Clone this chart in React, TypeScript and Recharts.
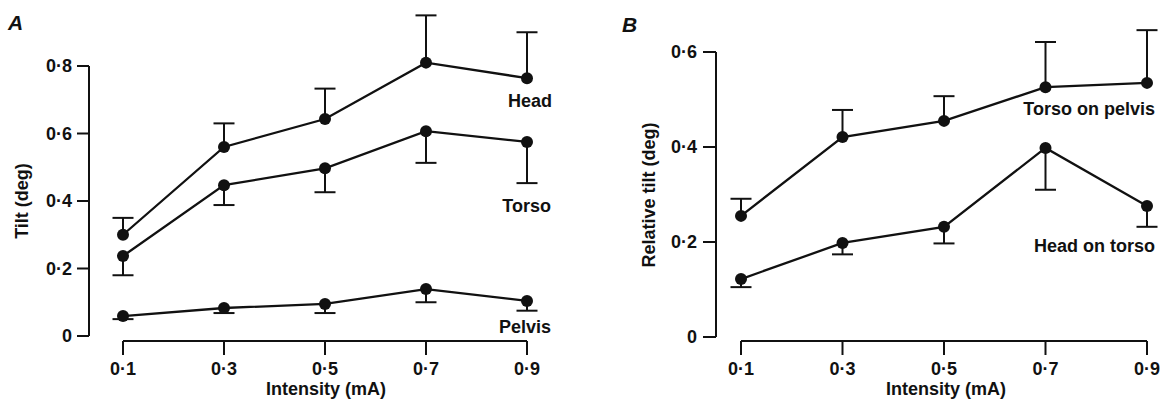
import React from "react";
import { LineChart, Line, XAxis, YAxis, ErrorBar, Label } from "recharts";

const INK = "#111";
const FONT = '"Liberation Sans", Arial, Helvetica, sans-serif';

const INTENSITY = [0.1, 0.3, 0.5, 0.7, 0.9];
const X_TICKS = [0.1, 0.3, 0.5, 0.7, 0.9];

// Panel A: absolute tilt (deg), error bars are one-sided
const HEAD = [0.3, 0.56, 0.643, 0.81, 0.764];
const HEAD_ERR = [0.05, 0.07, 0.09, 0.14, 0.136];
const TORSO = [0.237, 0.447, 0.497, 0.607, 0.575];
const TORSO_ERR = [0.057, 0.059, 0.071, 0.094, 0.122];
const PELVIS = [0.059, 0.083, 0.095, 0.139, 0.104];
const PELVIS_ERR = [0.009, 0.015, 0.027, 0.039, 0.029];
const A_TICKS = [0, 0.2, 0.4, 0.6, 0.8];

// Panel B: relative tilt (deg)
const TORSO_ON_PELVIS = [0.255, 0.421, 0.455, 0.526, 0.535];
const TORSO_ON_PELVIS_ERR = [0.036, 0.057, 0.052, 0.095, 0.111];
const HEAD_ON_TORSO = [0.122, 0.198, 0.232, 0.398, 0.276];
const HEAD_ON_TORSO_ERR = [0.017, 0.024, 0.035, 0.088, 0.044];
const B_TICKS = [0, 0.2, 0.4, 0.6];

interface SeriesDef {
  key: string;
  mean: number[];
  err: number[];
  dir: 1 | -1; // 1 = bar drawn upwards, -1 = downwards
}

const buildRows = (series: SeriesDef[]) =>
  INTENSITY.map((x, i) => {
    const row: Record<string, any> = { x };
    series.forEach((s) => {
      row[s.key] = s.mean[i];
      row[s.key + "Err"] = s.dir > 0 ? [0, s.err[i]] : [s.err[i], 0];
      row[s.key + "Cap"] = s.mean[i] + s.dir * s.err[i];
    });
    return row;
  });

const rowsA = buildRows([
  { key: "head", mean: HEAD, err: HEAD_ERR, dir: 1 },
  { key: "torso", mean: TORSO, err: TORSO_ERR, dir: -1 },
  { key: "pelvis", mean: PELVIS, err: PELVIS_ERR, dir: -1 },
]);

const rowsB = buildRows([
  { key: "top", mean: TORSO_ON_PELVIS, err: TORSO_ON_PELVIS_ERR, dir: 1 },
  { key: "hot", mean: HEAD_ON_TORSO, err: HEAD_ON_TORSO_ERR, dir: -1 },
]);

const fmt = (v: number) => (v === 0 ? "0" : v.toFixed(1).replace(".", "\u00b7"));

const tickStyle = { fill: INK, fontSize: 18, fontFamily: FONT, fontWeight: "bold" };
const lineStyle = { stroke: INK, strokeWidth: 2 };

const capDot = (p: any) => (
  <line
    key={`cap-${p.index}`}
    x1={p.cx - 10.5}
    x2={p.cx + 10.5}
    y1={p.cy}
    y2={p.cy}
    stroke={INK}
    strokeWidth={2}
  />
);

const makeDot = (label: string, dx: number, dy: number) => (p: any) => (
  <g key={`dot-${p.index}`}>
    <circle cx={p.cx} cy={p.cy} r={6} fill={INK} />
    {p.index === INTENSITY.length - 1 && (
      <text
        x={p.cx + dx}
        y={p.cy + dy}
        textAnchor="end"
        fontFamily={FONT}
        fontWeight="bold"
        fontSize={18}
        fill={INK}
      >
        {label}
      </text>
    )}
  </g>
);

const renderSeries = (key: string, label: string, dx: number, dy: number) => [
  <Line
    key={key + "Cap"}
    dataKey={key + "Cap"}
    stroke="none"
    dot={capDot}
    activeDot={false}
    isAnimationActive={false}
  />,
  <Line
    key={key}
    dataKey={key}
    stroke={INK}
    strokeWidth={2.3}
    dot={makeDot(label, dx, dy)}
    activeDot={false}
    isAnimationActive={false}
  >
    <ErrorBar
      dataKey={key + "Err"}
      direction="y"
      width={0}
      stroke={INK}
      strokeWidth={2}
      isAnimationActive={false}
    />
  </Line>,
];

const AxisTitle = ({ x, y, text, rotate }: { x: number; y: number; text: string; rotate?: boolean }) => (
  <text
    x={x}
    y={y}
    textAnchor="middle"
    fontFamily={FONT}
    fontWeight="bold"
    fontSize={18}
    fill={INK}
    transform={rotate ? `rotate(-90, ${x}, ${y})` : undefined}
  >
    {text}
  </text>
);

const PanelLetter = ({ text, left, top }: { text: string; left: number; top: number }) => (
  <div
    style={{
      position: "absolute",
      left,
      top,
      fontFamily: FONT,
      fontStyle: "italic",
      fontWeight: "bold",
      fontSize: 21,
      lineHeight: "21px",
      color: INK,
    }}
  >
    {text}
  </div>
);

const App = () => {
  return (
    <div
      style={{
        position: "absolute",
        left: 0,
        top: 0,
        width: 1168,
        height: 407,
        background: "#fff",
        overflow: "hidden",
      }}
    >
      <PanelLetter text="A" left={8} top={12} />
      <PanelLetter text="B" left={622} top={14} />

      <div style={{ position: "absolute", left: 0, top: 0 }}>
        <LineChart
          width={560}
          height={407}
          data={rowsA}
          margin={{ top: 12, right: 33, bottom: 6, left: 29 }}
        >
          <XAxis
            type="number"
            dataKey="x"
            domain={[0.1, 0.9]}
            ticks={X_TICKS}
            padding={{ left: 34, right: 0 }}
            height={60}
            tickSize={14}
            tickMargin={7}
            tickFormatter={fmt}
            tick={tickStyle}
            tickLine={lineStyle}
            axisLine={{ ...lineStyle, strokeDasharray: "0 34 1000" }}
          >
            <Label content={() => <AxisTitle x={326} y={395} text="Intensity (mA)" />} />
          </XAxis>
          <YAxis
            type="number"
            domain={[0, 0.96]}
            ticks={A_TICKS}
            padding={{ top: 0, bottom: 5 }}
            width={60}
            tickSize={12}
            tickMargin={5}
            tickFormatter={fmt}
            tick={tickStyle}
            tickLine={lineStyle}
            axisLine={{ ...lineStyle, strokeDasharray: "0 54 270 1000" }}
          >
            <Label content={() => <AxisTitle x={28} y={201} text="Tilt (deg)" rotate />} />
          </YAxis>
          {renderSeries("head", "Head", 25, 29)}
          {renderSeries("torso", "Torso", 24, 70)}
          {renderSeries("pelvis", "Pelvis", 24, 32)}
        </LineChart>
      </div>

      <div style={{ position: "absolute", left: 580, top: 0 }}>
        <LineChart
          width={588}
          height={407}
          data={rowsB}
          margin={{ top: 23.5, right: 21, bottom: 6, left: 56 }}
        >
          <XAxis
            type="number"
            dataKey="x"
            domain={[0.1, 0.9]}
            ticks={X_TICKS}
            padding={{ left: 25, right: 0 }}
            height={60}
            tickSize={14}
            tickMargin={7}
            tickFormatter={fmt}
            tick={tickStyle}
            tickLine={lineStyle}
            axisLine={{ ...lineStyle, strokeDasharray: "0 25 1000" }}
          >
            <Label content={() => <AxisTitle x={366} y={395} text="Intensity (mA)" />} />
          </XAxis>
          <YAxis
            type="number"
            domain={[0, 0.66]}
            ticks={B_TICKS}
            padding={{ top: 0, bottom: 4 }}
            width={80}
            tickSize={13}
            tickMargin={6}
            tickFormatter={fmt}
            tick={tickStyle}
            tickLine={lineStyle}
            axisLine={{ ...lineStyle, strokeDasharray: "0 28.5 285 1000" }}
          >
            <Label content={() => <AxisTitle x={75} y={195} text="Relative tilt (deg)" rotate />} />
          </YAxis>
          {renderSeries("top", "Torso on pelvis", 8, 32)}
          {renderSeries("hot", "Head on torso", 8, 46)}
        </LineChart>
      </div>
    </div>
  );
};

export default App;
